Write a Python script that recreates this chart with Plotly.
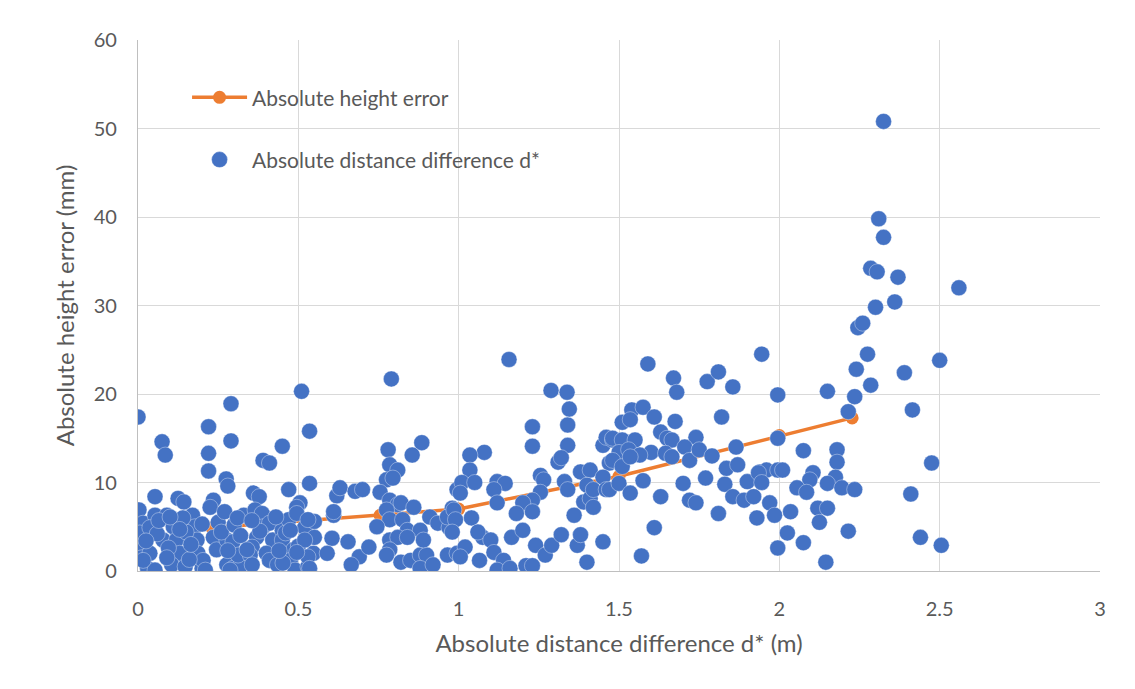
import plotly.graph_objects as go

# Orange line: absolute height error (binned)
line_x = [0.23, 0.755, 1.0, 1.5, 2.0, 2.227]
line_y = [4.9, 6.3, 7.0, 10.7, 15.3, 17.3]

# Blue scatter points: (x, y) pairs
pts = [
    (0.0,17.4),(0.075,14.6),(0.085,13.1),(0.22,16.3),(0.22,13.3),(0.22,11.3),(0.29,18.9),(0.29,14.7),
    (0.275,10.4),(0.28,9.6),(0.39,12.5),(0.41,12.2),(0.45,14.1),(0.51,20.3),(0.535,15.8),(0.535,9.9),
    (0.47,9.2),(0.505,7.7),(0.003,6.9),(0.053,8.4),(0.125,8.2),(0.143,7.8),(0.235,8.0),(0.225,7.2),
    (0.36,8.8),(0.378,8.4),(0.62,8.5),(0.63,9.4),(0.677,9.0),(0.70,9.2),(0.61,6.3),
    (0.016,5.4),(0.053,6.3),(0.09,6.3),(0.006,4.3),(0.037,4.9),(0.0,2.7),(0.012,1.5),(0.03,0.3),
    (0.053,0.1),(0.037,2.0),(0.078,3.5),(0.11,5.0),(0.12,3.5),(0.13,2.0),(0.105,0.7),(0.147,0.5),
    (0.17,6.3),(0.178,5.0),(0.184,3.5),(0.187,2.0),(0.20,0.3),(0.203,1.2),(0.25,5.5),(0.27,6.7),
    (0.235,3.8),(0.245,2.4),(0.277,3.5),(0.296,3.3),(0.277,0.7),(0.296,0.3),(0.318,0.5),(0.312,1.8),
    (0.33,6.3),(0.365,6.9),(0.387,6.5),(0.37,3.8),(0.356,2.7),(0.35,1.8),(0.39,5.0),(0.41,5.4),
    (0.42,3.5),(0.40,2.0),(0.41,1.2),(0.45,4.6),(0.45,3.5),(0.47,5.8),(0.495,7.2),(0.495,6.5),
    (0.485,2.4),(0.475,1.2),(0.49,0.1),(0.435,0.7),
    (0.016,1.2),(0.21,0.1),(0.287,0.1),(0.356,0.7),(0.452,0.9),(0.547,2.0),(0.605,3.7),(0.655,3.3),
    (0.69,1.6),(0.72,2.7),
    (0.06,4.2),(0.095,2.6),(0.15,4.4),(0.16,1.3),(0.14,6.0),(0.065,5.7),(0.1,6.1),(0.2,5.3),
    (0.26,4.4),(0.3,5.2),(0.32,4.0),(0.34,2.4),(0.38,4.5),(0.43,6.1),(0.44,2.3),(0.025,3.4),
    (0.09,1.5),(0.13,4.7),(0.165,3.0),(0.28,2.3),(0.31,6.0),(0.355,5.7),(0.46,4.3),(0.5,2.8),
    (0.52,4.9),(0.55,5.6),(0.53,0.5),
    (0.78,13.7),(0.885,14.5),(0.855,13.1),(0.785,12.0),(0.81,11.4),(0.775,10.3),(0.795,10.5),(0.755,8.9),
    (0.53,5.8),(0.61,6.7),(0.785,8.0),(0.81,7.5),(0.82,7.7),(0.86,7.2),(0.775,6.9),(0.785,5.8),
    (0.825,5.8),(0.745,5.0),(0.84,4.6),(0.88,4.6),(0.91,6.1),(0.935,5.4),(0.97,4.9),(0.98,7.1),
    (0.995,9.2),(0.965,6.1),(0.785,3.5),(0.81,3.8),(0.84,3.8),(0.785,2.4),(0.775,1.8),(0.82,1.0),
    (0.85,1.2),(0.88,1.8),(0.9,1.8),(0.88,0.3),(0.92,0.7),(0.89,3.5),(0.965,1.8),(0.995,2.0),
    (0.665,0.7),(0.59,2.0),(0.55,3.8),(0.52,3.5),(0.53,1.6),(0.535,0.3),(0.495,2.1),(0.475,4.6),
    (0.79,21.7),
    (1.23,16.3),(1.23,14.1),(1.34,16.5),(1.34,14.2),(1.08,13.4),(1.035,13.1),(1.035,11.4),(1.01,10.0),
    (1.005,8.8),(1.05,10.0),(1.12,10.1),(1.145,9.9),(1.11,9.2),(1.12,7.7),(0.985,6.9),(0.99,5.8),
    (0.98,4.4),(1.04,6.0),(1.255,10.8),(1.265,10.3),(1.255,8.9),(1.23,8.0),(1.20,7.7),(1.18,6.5),
    (1.23,6.7),(1.31,12.3),(1.32,12.8),(1.33,10.1),(1.34,9.2),(1.36,6.3),(1.38,11.2),(1.41,11.4),
    (1.40,9.7),(1.39,7.8),(1.41,8.2),(1.42,7.2),(1.42,9.2),(1.45,14.2),(1.46,15.1),(1.48,14.8),
    (1.47,12.2),(1.49,12.5),(1.45,10.6),(1.46,9.2),(1.075,3.8),(1.06,4.4),(1.10,3.5),(1.165,3.8),
    (1.20,4.6),(1.02,2.7),(1.005,1.6),(1.065,1.2),(1.11,2.1),(1.14,1.2),(1.12,0.1),(1.16,0.3),
    (1.21,0.6),(1.23,0.6),(1.24,2.9),(1.27,1.8),(1.29,2.9),(1.32,4.1),(1.37,2.9),(1.38,4.1),
    (1.40,1.0),(1.45,3.3),(1.157,23.9),(1.288,20.4),(1.338,20.2),(1.345,18.3),
    (1.59,23.4),(1.67,21.8),(1.68,20.2),(1.775,21.4),(1.81,22.5),(1.855,20.8),(1.945,24.5),(1.995,19.9),
    (1.54,18.2),(1.575,18.5),(1.51,16.8),(1.535,17.1),(1.61,17.4),(1.675,16.9),(1.82,17.4),(1.63,15.7),
    (1.65,15.0),(1.665,14.8),(1.74,15.1),(1.48,15.0),(1.51,14.8),(1.55,14.8),(1.50,13.4),(1.53,13.7),
    (1.60,13.4),(1.565,13.1),(1.48,12.5),(1.51,11.8),(1.535,12.9),(1.645,13.3),(1.665,12.9),(1.705,14.0),
    (1.72,12.5),(1.75,13.7),(1.79,13.0),(1.865,14.0),(1.835,11.6),(1.87,12.0),(1.94,11.2),(1.96,11.4),
    (1.995,15.0),(1.995,11.4),(1.47,9.2),(1.50,9.9),(1.535,8.8),(1.575,10.2),(1.63,8.4),(1.70,9.9),
    (1.72,8.0),(1.74,7.7),(1.77,10.5),(1.83,9.8),(1.855,8.4),(1.89,8.0),(1.90,10.1),(1.92,8.4),
    (1.935,11.1),(1.945,10.0),(1.97,7.7),(1.985,6.3),(1.93,6.0),(1.81,6.5),(1.61,4.9),(1.57,1.7),
    (1.995,2.6),
    (2.15,20.3),(2.235,19.7),(2.285,21.0),(2.215,18.0),(2.075,13.6),(2.18,13.7),(2.18,12.3),(2.01,11.4),
    (2.105,11.1),(2.095,10.3),(2.175,10.6),(2.15,9.9),(2.055,9.4),(2.085,8.9),(2.195,9.4),(2.235,9.2),
    (2.035,6.7),(2.12,7.1),(2.15,7.1),(2.125,5.5),(2.025,4.3),(2.215,4.5),(2.075,3.2),
    (2.145,1.0),
    (2.325,50.8),(2.31,39.8),(2.325,37.7),(2.285,34.2),(2.305,33.8),(2.37,33.2),(2.56,32.0),(2.36,30.4),
    (2.30,29.8),(2.245,27.5),(2.26,28.0),(2.275,24.5),(2.50,23.8),(2.24,22.8),(2.39,22.4),(2.415,18.2),
    (2.475,12.2),(2.41,8.7),(2.44,3.8),(2.505,2.9),
]
scatter_x = [p[0] for p in pts]
scatter_y = [p[1] for p in pts]

x_ticks = [0, 0.5, 1, 1.5, 2, 2.5, 3]
x_tick_labels = ["0", "0.5", "1", "1.5", "2", "2.5", "3"]
y_ticks = [0, 10, 20, 30, 40, 50, 60]

FONT = "Lato"
TEXT = "#595959"
GRID = "#D9D9D9"

fig = go.Figure()
fig.add_trace(go.Scatter(
    x=line_x, y=line_y, mode="lines+markers", name="Absolute height error",
    line=dict(color="#ED7D31", width=3.5),
    marker=dict(color="#ED7D31", size=13),
    legendgroup="a",
))
fig.add_trace(go.Scatter(
    x=scatter_x, y=scatter_y, mode="markers", name="Absolute distance difference d*",
    marker=dict(color="#4472C4", size=16, line=dict(color="rgba(255,255,255,0.6)", width=0.6)),
    legendgroup="b",
))

fig.update_layout(
    width=1119, height=673,
    margin=dict(l=130, r=27, t=32, b=110),
    paper_bgcolor="white", plot_bgcolor="white",
    font=dict(family=FONT, color=TEXT, size=20),
    showlegend=True,
    legend=dict(
        x=0.051, y=0.93, xanchor="left", yanchor="top",
        bgcolor="rgba(0,0,0,0)", font=dict(size=21, color=TEXT, family=FONT),
        tracegroupgap=32, itemwidth=55,
    ),
    xaxis=dict(
        range=[0, 3], tickvals=x_ticks, ticktext=x_tick_labels,
        showgrid=True, gridcolor=GRID, gridwidth=1.3,
        zeroline=False, showline=True, linecolor="#BFBFBF", linewidth=1.3, mirror=False,
        ticks="", tickfont=dict(size=20, color=TEXT, family=FONT), ticklabelstandoff=20,
        title=dict(text="Absolute distance difference d* (m)", font=dict(size=24, color=TEXT, family=FONT), standoff=16),
    ),
    yaxis=dict(
        range=[0, 60], tickvals=y_ticks,
        showgrid=True, gridcolor=GRID, gridwidth=1.3,
        zeroline=False, showline=True, linecolor="#BFBFBF", linewidth=1.3,
        ticks="", tickfont=dict(size=20, color=TEXT, family=FONT), ticklabelstandoff=16,
        title=dict(text="Absolute height error (mm)", font=dict(size=24, color=TEXT, family=FONT), standoff=12),
    ),
)

fig.write_html("out.html")
